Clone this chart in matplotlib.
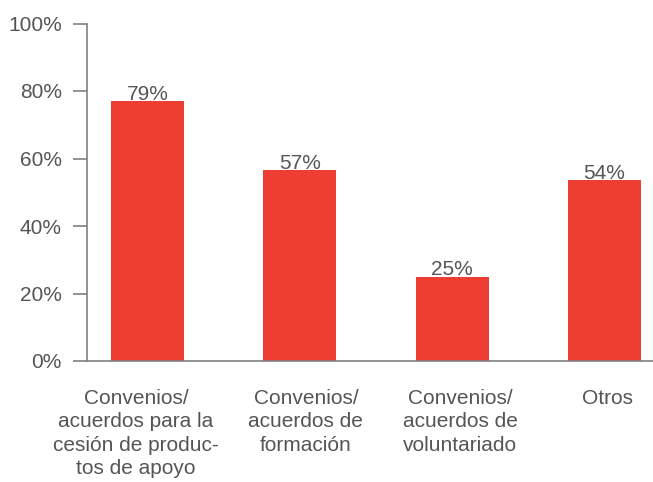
import matplotlib.pyplot as plt
from matplotlib.transforms import ScaledTranslation

plt.rcParams['font.family'] = ['Liberation Sans', 'DejaVu Sans']

categories = [
    "Convenios/\nacuerdos para la\ncesión de produc-\ntos de apoyo",
    "Convenios/\nacuerdos de\nformación",
    "Convenios/\nacuerdos de\nvoluntariado",
    "Otros",
]
values = [77, 56.6, 25, 53.6]
value_labels = ["79%", "57%", "25%", "54%"]
y_ticks = [0, 20, 40, 60, 80, 100]
y_tick_labels = ["0%", "20%", "40%", "60%", "80%", "100%"]

bar_color = "#EE3E34"
text_color = "#555555"
axis_color = "#808080"
# horizontal nudge of each category label (pixels), labels are not centred on bars
label_shift_px = [-11.5, 6, 8, 3.5]

fig = plt.figure(figsize=(6.53, 4.82), dpi=100)
ax = fig.add_axes([87 / 653, 121 / 482, 566 / 653, 337.5 / 482])

x = list(range(len(categories)))
ax.bar(x, values, width=0.48, color=bar_color, zorder=2)
for xi, v, lab in zip(x, values, value_labels):
    ax.text(xi, v + 0.4, lab, ha="center", va="baseline",
            fontsize=15, color=text_color, zorder=3)

ax.set_xlim(-0.398, 3.319)
ax.set_ylim(0, 100)
ax.set_yticks(y_ticks)
ax.set_yticklabels(y_tick_labels)
ax.set_xticks(x)
ax.set_xticklabels(categories, linespacing=1.3)

ax.tick_params(axis="y", length=10, width=1.2, color=axis_color,
               labelsize=15, labelcolor=text_color, pad=8)
ax.tick_params(axis="x", length=0, labelsize=15, labelcolor=text_color, pad=20)

for lbl, dx in zip(ax.get_xticklabels(), label_shift_px):
    lbl.set_transform(lbl.get_transform() +
                      ScaledTranslation(dx / 100, 0, fig.dpi_scale_trans))

for s in ["top", "right"]:
    ax.spines[s].set_visible(False)
for s in ["left", "bottom"]:
    ax.spines[s].set_color(axis_color)
    ax.spines[s].set_linewidth(1.2)

fig.savefig("out.png", dpi=100)
